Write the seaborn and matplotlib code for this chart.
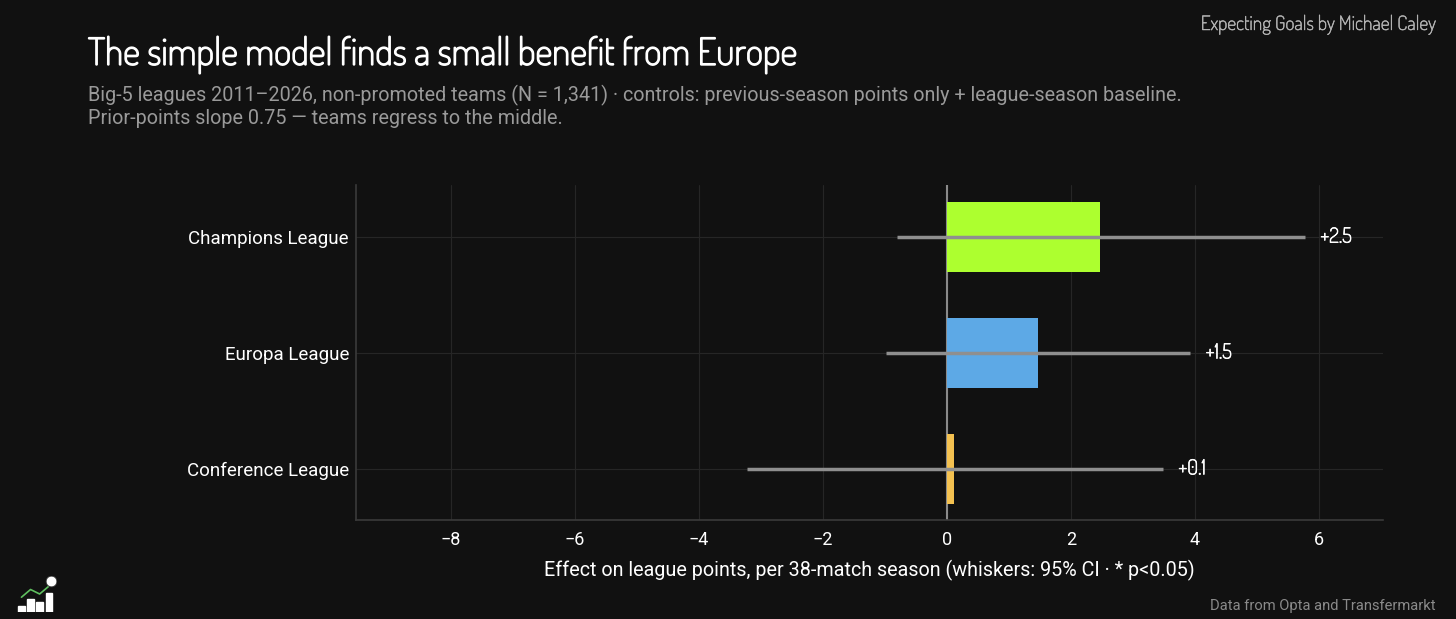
import matplotlib
matplotlib.use("Agg")
import matplotlib.pyplot as plt
import matplotlib.patheffects as pe
import seaborn as sns
import pandas as pd
from matplotlib import font_manager as fm

categories = ["Champions League", "Europa League", "Conference League"]
effects = [2.47, 1.46, 0.12]
ci_low = [-0.80, -0.98, -3.23]
ci_high = [5.77, 3.92, 3.48]
value_labels = ["+2.5", "+1.5", "+0.1"]
colors = ["#ADFF2F", "#5DA9E6", "#F4C150"]
x_ticks = [-8, -6, -4, -2, 0, 2, 4, 6]

BG = "#111111"
sns.set_theme(style="dark")
avail = {f.name for f in fm.fontManager.ttflist}
narrow = "Roboto"
for cand in ["Dosis", "Roboto Condensed", "IBM Plex Sans Condensed", "Open Sans"]:
    if cand in avail:
        narrow = cand
        break
plt.rcParams["font.family"] = ["Roboto", "DejaVu Sans"]

def thick(color, w):
    return [pe.withStroke(linewidth=w, foreground=color)]

df = pd.DataFrame({"cat": categories, "eff": effects})

fig = plt.figure(figsize=(14.56, 6.19), dpi=100, facecolor=BG)
ax = fig.add_axes([356/1456, 1-520/619, (1383-356)/1456, (520-185)/619])
ax.set_facecolor(BG)

ax.axvline(0, color="#8a8a8a", lw=1.5, zorder=1)
sns.barplot(data=df, x="eff", y="cat", hue="cat", palette=colors, orient="h",
            width=0.6, ax=ax, legend=False, zorder=2, linewidth=0, saturation=1)
ys = range(len(categories))
ax.hlines(list(ys), ci_low, ci_high, color="#8f8f8f", lw=2.5, zorder=3)
for y, hi, lab in zip(ys, ci_high, value_labels):
    ax.text(hi + 0.25, y, lab, color="white", fontsize=15, va="center", ha="left",
            family=[narrow, "DejaVu Sans"], path_effects=thick("white", 0.5))

ax.set_xlim(-9.53, 7.03)
ax.set_ylim(2.44, -0.45)
ax.set_xticks(x_ticks)
ax.set_xticklabels([f"{t}".replace("-", "\u2212") for t in x_ticks])
ax.grid(True, color="#262626", lw=0.8)
ax.set_axisbelow(True)
for s in ["top", "right"]:
    ax.spines[s].set_visible(False)
for s in ["left", "bottom"]:
    ax.spines[s].set_color("#3a3a3a")
    ax.spines[s].set_linewidth(1.2)
ax.tick_params(axis="x", colors="white", labelsize=13, length=0, pad=8)
ax.tick_params(axis="y", colors="white", labelsize=13.5, length=0, pad=5)
ax.set_ylabel("")
ax.set_xlabel("Effect on league points, per 38-match season (whiskers: 95% CI \u00b7 * p<0.05)",
              color="white", fontsize=14.2, labelpad=8)

fig.text(88/1456, 1-65/619, "The simple model finds a small benefit from Europe",
         color="white", fontsize=27, family=[narrow, "DejaVu Sans"], va="baseline",
         path_effects=thick("white", 1.0))
fig.text(88/1456, 1-101/619,
         "Big-5 leagues 2011\u20132026, non-promoted teams (N = 1,341) \u00b7 controls: previous-season points only + league-season baseline.",
         color="#9a9a9a", fontsize=14.2, va="baseline")
fig.text(88/1456, 1-124/619, "Prior-points slope 0.75 \u2014 teams regress to the middle.",
         color="#9a9a9a", fontsize=14.2, va="baseline")
fig.text(1436/1456, 1-30/619, "Expecting Goals by Michael Caley", color="#b5b5b5",
         fontsize=14.2, ha="right", va="baseline", family=[narrow, "DejaVu Sans"],
         path_effects=thick("#b5b5b5", 0.35))
fig.text(1436/1456, 1-610/619, "Data from Opta and Transfermarkt", color="#8a8a8a",
         fontsize=10.6, ha="right", va="baseline")

# small logo
lax = fig.add_axes([16/1456, 1-612/619, 40/1456, 36/619])
lax.set_facecolor(BG)
lax.axis("off")
lax.bar([0, 1, 2, 3], [1, 2, 1.6, 3], color="white", width=0.7)
lax.plot([0, 1, 2, 3], [2.3, 3.5, 2.8, 4.0], color="#5fbf5f", lw=1.2)
lax.scatter([3.3], [4.9], s=60, color="white", edgecolor="#333", lw=0.6, zorder=5)
lax.set_xlim(-0.6, 3.8)
lax.set_ylim(0, 5.6)

fig.savefig("out.png", dpi=100, facecolor=BG)
